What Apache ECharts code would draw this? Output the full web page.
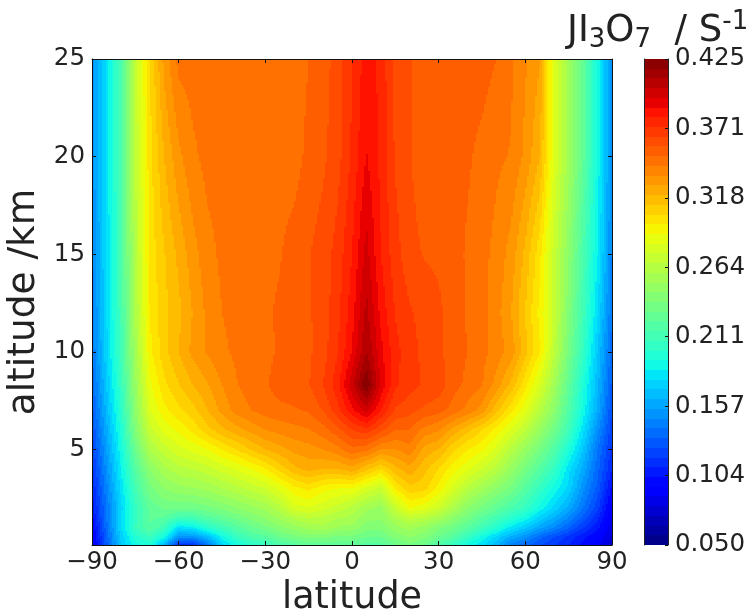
<!DOCTYPE html>
<html><head><meta charset="utf-8">
<style>html,body{margin:0;padding:0;background:#fff}#c{width:753px;height:611px}</style>
<script src="https://cdn.jsdelivr.net/npm/echarts@6/dist/echarts.min.js"></script>
</head><body><div id="c"></div>
<script>
const latitudes=[-90,-85,-80,-75,-70,-65,-60,-55,-50,-45,-40,-35,-30,-25,-20,-15,-10,-5,0,5,10,15,20,25,30,35,40,45,50,55,60,65,70,75,80,85,90];
const altitudes=[0.1,0.5,1,1.5,2,3,4,5,6,7,8.3,10,12,15,20,25];
const z0_1=[.085,.13,.17,.19,.195,.165,.115,.115,.14,.175,.19,.2,.205,.215,.22,.225,.225,.225,.225,.22,.22,.23,.235,.23,.215,.205,.19,.18,.165,.145,.135,.125,.118,.11,.1,.09,.075];
const z0_5=[.09,.133,.172,.197,.207,.19,.15,.15,.165,.188,.205,.215,.22,.23,.235,.24,.24,.235,.235,.23,.23,.24,.245,.24,.23,.22,.205,.19,.175,.16,.15,.135,.125,.115,.105,.095,.078];
const z1=[.095,.137,.177,.207,.222,.21,.18,.185,.2,.21,.22,.228,.235,.243,.25,.255,.258,.252,.25,.24,.24,.25,.256,.25,.24,.232,.222,.21,.198,.183,.172,.158,.147,.133,.118,.105,.082];
const z1_5=[.1,.14,.176,.206,.224,.222,.21,.212,.22,.226,.233,.24,.246,.254,.263,.268,.266,.261,.258,.248,.246,.26,.27,.266,.258,.245,.234,.222,.212,.2,.19,.175,.162,.147,.13,.112,.086];
const z2=[.105,.14,.175,.205,.225,.232,.232,.232,.235,.24,.245,.25,.255,.265,.28,.282,.278,.272,.265,.255,.25,.272,.29,.285,.275,.26,.245,.235,.225,.215,.205,.19,.175,.16,.14,.12,.09];
const z3=[.11,.145,.18,.212,.235,.245,.25,.252,.255,.26,.265,.27,.275,.285,.295,.3,.293,.29,.29,.28,.272,.298,.31,.308,.295,.28,.265,.255,.245,.235,.22,.205,.19,.175,.15,.13,.1];
const z4=[.115,.15,.185,.22,.245,.258,.265,.268,.272,.278,.283,.29,.297,.308,.318,.323,.32,.32,.325,.315,.305,.318,.325,.315,.305,.293,.285,.275,.265,.25,.235,.22,.205,.18,.16,.135,.11];
const z5=[.12,.155,.19,.23,.26,.272,.28,.285,.29,.298,.305,.313,.32,.325,.33,.332,.335,.34,.348,.345,.335,.335,.34,.325,.32,.307,.298,.292,.28,.265,.25,.235,.218,.195,.17,.14,.115];
const z6=[.125,.16,.195,.24,.272,.285,.292,.3,.31,.318,.325,.33,.335,.338,.34,.342,.347,.355,.365,.37,.36,.35,.35,.34,.336,.325,.315,.305,.295,.282,.268,.25,.232,.21,.18,.15,.12];
const z7=[.13,.165,.2,.245,.282,.295,.303,.31,.32,.33,.338,.3425,.346,.348,.349,.351,.358,.37,.385,.398,.38,.364,.36,.356,.353,.347,.34,.332,.315,.3,.285,.265,.245,.218,.19,.16,.125];
const z8_3=[.135,.17,.205,.25,.288,.303,.312,.32,.327,.335,.342,.346,.349,.3535,.355,.357,.365,.377,.4,.425,.393,.374,.368,.364,.362,.353,.348,.343,.332,.318,.3,.28,.255,.225,.195,.165,.13];
const z10=[.14,.175,.21,.255,.295,.31,.32,.33,.336,.341,.344,.346,.348,.351,.354,.356,.362,.372,.388,.41,.39,.375,.368,.363,.359,.354,.35,.345,.339,.332,.315,.298,.268,.235,.205,.17,.135];
const z12=[.143,.177,.212,.26,.298,.31,.318,.328,.337,.3425,.345,.347,.349,.351,.354,.3565,.361,.37,.384,.405,.385,.372,.366,.362,.359,.354,.349,.345,.338,.328,.312,.295,.272,.24,.21,.178,.14];
const z15=[.146,.178,.213,.263,.3,.312,.322,.332,.34,.344,.346,.347,.348,.3495,.353,.357,.361,.368,.38,.398,.38,.368,.36,.357,.356,.353,.349,.345,.34,.332,.318,.3,.272,.245,.215,.185,.145];
const z20=[.15,.18,.215,.268,.302,.32,.333,.341,.345,.346,.346,.346,.347,.347,.347,.352,.356,.362,.374,.388,.378,.364,.358,.353,.353,.353,.351,.348,.344,.342,.333,.32,.282,.255,.225,.19,.15];
const z25=[.15,.18,.215,.27,.305,.33,.345,.346,.346,.346,.346,.346,.346,.346,.346,.35,.354,.361,.372,.384,.378,.362,.358,.353,.353,.353,.353,.353,.35,.344,.336,.328,.28,.255,.225,.19,.15];
const rows=[z0_1,z0_5,z1,z1_5,z2,z3,z4,z5,z6,z7,z8_3,z10,z12,z15,z20,z25];
const colorbarTicks=[0.05,0.1036,0.1571,0.2107,0.2643,0.3179,0.3714,0.425];
const altTicks=[5,10,15,20,25];
const vMin=0.05,vMax=0.425,nLevels=50;

function seg(t,p){for(let i=1;i<p.length;i++){if(t<=p[i][0]){const a=p[i-1],b=p[i];return a[1]+(b[1]-a[1])*(t-a[0])/(b[0]-a[0]);}}return p[p.length-1][1];}
function jet(t){
  const r=seg(t,[[0,0],[.35,0],[.66,1],[.89,1],[1,.5]]);
  const g=seg(t,[[0,0],[.125,0],[.375,1],[.64,1],[.91,0],[1,0]]);
  const b=seg(t,[[0,.5],[.11,1],[.34,1],[.65,0],[1,0]]);
  return 'rgb('+Math.round(r*255)+','+Math.round(g*255)+','+Math.round(b*255)+')';
}
const palette=[];for(let i=0;i<nLevels;i++)palette.push(jet((i+.5)/nLevels));
function levelOf(v){return Math.max(0,Math.min(nLevels-1,Math.floor((v-vMin)/(vMax-vMin)*nLevels)));}

const cells=[];
for(let j=0;j<altitudes.length-1;j++)for(let i=0;i<latitudes.length-1;i++){
  cells.push([latitudes[i],altitudes[j],latitudes[i+1],altitudes[j+1],rows[j][i],rows[j][i+1],rows[j+1][i],rows[j+1][i+1]]);
}
const bands=[];
for(let i=0;i<nLevels;i++)bands.push([vMin+(vMax-vMin)*i/nLevels,vMin+(vMax-vMin)*(i+1)/nLevels,i]);

function renderCell(p,api){
  const a=api.coord([api.value(0),api.value(1)]),b=api.coord([api.value(2),api.value(3)]);
  const v00=api.value(4),v10=api.value(5),v01=api.value(6),v11=api.value(7);
  const x0=Math.round(a[0]),x1=Math.round(b[0]),yB=Math.round(a[1]),yT=Math.round(b[1]);
  const kids=[];
  for(let x=x0;x<x1;x+=2){
    const cw=Math.min(2,x1-x),fx=(x+cw/2-a[0])/(b[0]-a[0]);
    let runStart=yT,runL=-1;
    for(let y=yT;y<=yB;y++){
      let L=-2;
      if(y<yB){
        const fy=(a[1]-(y+.5))/(a[1]-b[1]);
        const v=v00*(1-fx)*(1-fy)+v10*fx*(1-fy)+v01*(1-fx)*fy+v11*fx*fy;
        L=levelOf(v);
      }
      if(L!==runL){
        if(runL>=0)kids.push({type:'rect',shape:{x:x,y:runStart,width:cw,height:y-runStart},style:{fill:palette[runL]},silent:true});
        runStart=y;runL=L;
      }
    }
  }
  return {type:'group',children:kids};
}
function renderBand(p,api){
  const a=api.coord([0,api.value(0)]),b=api.coord([1,api.value(1)]);
  const yT=Math.round(b[1]),yB=Math.round(a[1]);
  return {type:'rect',shape:{x:a[0],y:yT,width:b[0]-a[0],height:yB-yT},style:{fill:palette[api.value(2)]},silent:true};
}
const font='"DejaVu Sans"',ink='#222';
const line={show:true,onZero:false,lineStyle:{color:'#111',width:1}};
const tick={show:true,inside:true,length:4,lineStyle:{color:'#111',width:1}};
const chart=echarts.init(document.getElementById('c'),null,{renderer:'canvas'});
chart.setOption({
  animation:false,backgroundColor:'#fff',
  title:{text:'{b|JI}{s|3}{b|O}{s|7}{b|  / S}{u|-1}',left:562,top:4,
    textStyle:{fontWeight:'normal',rich:{
      b:{fontFamily:font,fontWeight:'normal',fontSize:37,color:ink,lineHeight:44,verticalAlign:'middle'},
      s:{fontFamily:font,fontWeight:'normal',fontSize:26,color:ink,lineHeight:44,verticalAlign:'bottom'},
      u:{fontFamily:font,fontWeight:'normal',fontSize:26,color:ink,lineHeight:44,verticalAlign:'top'}
    }}},
  grid:[{left:92,top:59,width:520,height:486,outerBoundsMode:'none'},{left:644,top:59,width:24,height:486,outerBoundsMode:'none'}],
  xAxis:[
    {type:'value',gridIndex:0,min:-90,max:90,interval:30,position:'bottom',z:10,axisLine:line,axisTick:tick,splitLine:{show:false},
     axisLabel:{fontFamily:font,fontSize:24.5,color:ink,margin:5,showMinLabel:true,showMaxLabel:true,formatter:v=>String(v).replace('-','\u2212')},
     name:'latitude',nameLocation:'middle',nameGap:32,nameTextStyle:{fontFamily:font,fontSize:36.5,color:ink}},
    {type:'value',gridIndex:0,min:-90,max:90,interval:30,position:'top',z:10,axisLine:line,axisTick:tick,axisLabel:{show:false},splitLine:{show:false}},
    {type:'value',gridIndex:1,min:0,max:1,show:false}
  ],
  yAxis:[
    {type:'value',gridIndex:0,min:0.1,max:25,position:'left',z:10,axisLine:line,axisTick:{...tick,customValues:altTicks},splitLine:{show:false},
     axisLabel:{fontFamily:font,fontSize:24.5,color:ink,margin:7,customValues:altTicks},
     name:'altitude /km',nameLocation:'middle',nameGap:40,nameTextStyle:{fontFamily:font,fontSize:37.5,color:ink}},
    {type:'value',gridIndex:0,min:0.1,max:25,position:'right',z:10,axisLine:line,axisTick:{...tick,customValues:altTicks},axisLabel:{show:false},splitLine:{show:false}},
    {type:'value',gridIndex:1,min:vMin,max:vMax,position:'right',z:10,axisLine:{show:true,onZero:false,lineStyle:{color:'#222',width:1}},
     axisTick:{...tick,length:3,customValues:colorbarTicks},splitLine:{show:false},
     axisLabel:{fontFamily:font,fontSize:24.5,color:ink,margin:7,customValues:colorbarTicks,formatter:v=>v.toFixed(3)}},
    {type:'value',gridIndex:1,min:vMin,max:vMax,position:'left',z:10,axisLine:{show:true,onZero:false,lineStyle:{color:'#222',width:1}},axisTick:{show:false},axisLabel:{show:false},splitLine:{show:false}}
  ],
  series:[
    {type:'custom',xAxisIndex:0,yAxisIndex:0,coordinateSystem:'cartesian2d',data:cells,renderItem:renderCell,encode:{x:[0,2],y:[1,3]},clip:true,silent:true,progressive:0,z:2},
    {type:'custom',xAxisIndex:2,yAxisIndex:2,coordinateSystem:'cartesian2d',data:bands,renderItem:renderBand,encode:{y:[0,1]},silent:true,progressive:0,z:2}
  ]
});
</script></body></html>
